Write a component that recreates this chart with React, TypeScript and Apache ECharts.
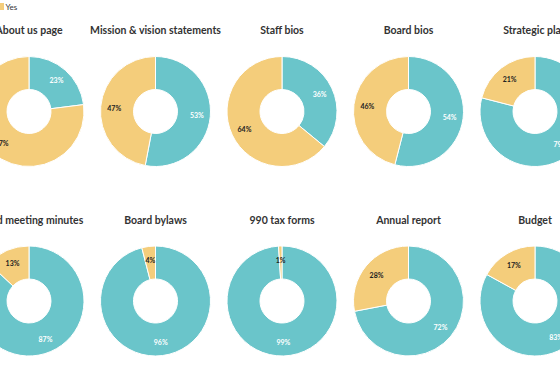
import React, { useEffect, useRef } from "react";
import * as echarts from "echarts";

const categories = [
  "About us page",
  "Mission & vision statements",
  "Staff bios",
  "Board bios",
  "Strategic plan",
  "Board meeting minutes",
  "Board bylaws",
  "990 tax forms",
  "Annual report",
  "Budget",
];
const noValues = [23, 53, 36, 54, 79, 87, 96, 99, 72, 83];
const yesValues = [77, 47, 64, 46, 21, 13, 4, 1, 28, 17];
const seriesNames = ["No", "Yes"];
const legendLabel = "Yes";

const TEAL = "#6ac5ca";
const YELLOW = "#f4cd7b";
const FONT = "Lato, 'Open Sans', sans-serif";

export default function App() {
  const ref = useRef<HTMLDivElement>(null);
  useEffect(() => {
    if (!ref.current) return;
    const chart = echarts.init(ref.current, undefined, { renderer: "svg" });
    const colX = [29, 155.5, 282, 408.5, 535];
    const rowY = [111.5, 301];
    const titleY = [23, 213];
    const titles: any[] = [];
    const series: any[] = [];
    categories.forEach((cat, i) => {
      const cx = colX[i % 5];
      const r = Math.floor(i / 5);
      titles.push({
        text: cat,
        left: cx,
        top: titleY[r],
        padding: 0,
        textAlign: "center",
        textStyle: { fontFamily: FONT, fontSize: 10.5, fontWeight: "bold", color: "#333", lineHeight: 13 },
      });
      series.push({
        type: "pie",
        name: cat,
        center: [cx, rowY[r]],
        radius: [22, 55],
        startAngle: 90,
        clockwise: true,
        avoidLabelOverlap: false,
        itemStyle: { borderColor: "#fff", borderWidth: 1 },
        label: {
          show: true,
          position: "inside",
          formatter: "{c}%",
          fontFamily: FONT,
          fontSize: 7,
          fontWeight: "bold",
        },
        labelLine: { show: false },
        emphasis: { disabled: true },
        data: [
          { name: seriesNames[0], value: noValues[i], itemStyle: { color: TEAL }, label: { color: "#fff" } },
          { name: seriesNames[1], value: yesValues[i], itemStyle: { color: YELLOW }, label: { color: "#222" } },
        ],
      });
    });
    chart.setOption({
      animation: false,
      title: titles,
      graphic: [
        { type: "rect", shape: { x: -6, y: 3, width: 10, height: 7 }, style: { fill: YELLOW } },
        {
          type: "text",
          x: 5.5,
          y: 7,
          style: {
            text: legendLabel,
            fontFamily: FONT,
            fontSize: 8,
            fill: "#333",
            verticalAlign: "middle",
            align: "left",
          },
        },
      ],
      series,
    });
    return () => chart.dispose();
  }, []);
  return (
    <div
      ref={ref}
      style={{ position: "absolute", left: 0, top: 0, width: 560, height: 373, background: "#fff" }}
    />
  );
}
